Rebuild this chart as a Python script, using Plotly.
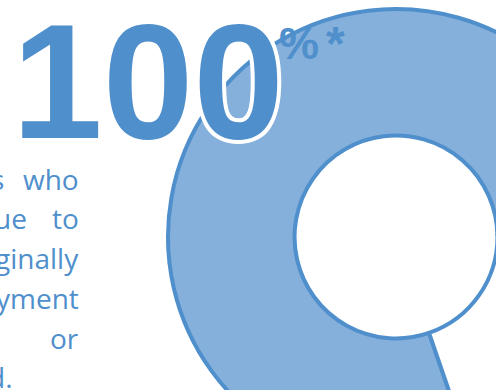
import plotly.graph_objects as go

# Doughnut: main share and the remaining share
slice_labels = ["Share", "Remainder"]
slice_values = [80, 20]
slice_colors = ["#84B0DB", "#FFFFFF"]

# Headline figure
headline = "100"
headline_suffix = ["%", "*"]

# Paragraph fragments (word, right edge in px), one list per line
para_words = [
    [("s", 6), ("who", 81)],
    [("ue", 29), ("to", 81)],
    [("ginally", 81)],
    [("yment", 81)],
    [("or", 81)],
]
last_line = "d."

BLUE = "#4F8FCC"
W, H = 792, 474            # canvas larger than the viewport so the ring can run off the edge
CX, CY, R = 396, 237, 228  # ring centre and radius in px


def px(x):
    return x / W


def py(y):
    return 1 - y / H


fig = go.Figure()
fig.add_trace(go.Pie(
    labels=slice_labels,
    values=slice_values,
    marker=dict(colors=slice_colors, line=dict(color=BLUE, width=4)),
    hole=0.445,
    sort=False,
    direction="clockwise",
    rotation=161,
    textinfo="none",
    hoverinfo="skip",
    showlegend=False,
    domain=dict(x=[px(CX - W / 2), px(CX + W / 2)], y=[py(CY + R), py(CY - R)]),
))

outline = ", ".join(f"{dx}px {dy}px 0 #FFFFFF" for dx, dy in
                    [(4, 0), (-4, 0), (0, 4), (0, -4), (3, 3), (-3, 3), (3, -3), (-3, -3),
                     (2, 0), (0, 2), (-2, 0), (0, -2)])

ann = []
ann.append(dict(x=px(148), y=py(81), text=f"<b>{headline}</b>", xanchor="center", yanchor="middle",
                font=dict(family="Liberation Sans", size=163, color=BLUE, shadow=outline)))
ann.append(dict(x=px(299), y=py(43), text=f"<b>{headline_suffix[0]}</b>", xanchor="center", yanchor="middle",
                font=dict(family="Liberation Sans", size=45, color=BLUE)))
ann.append(dict(x=px(335), y=py(44), text=f"<b>{headline_suffix[1]}</b>", xanchor="center", yanchor="middle",
                font=dict(family="Liberation Sans", size=48, color=BLUE)))

base, step = 192.7, 39.75
for i, words in enumerate(para_words):
    for word, right in words:
        ann.append(dict(x=px(right), y=py(base + step * i - 14), text=word, xanchor="right", yanchor="middle",
                        font=dict(family="Open Sans", size=28, color=BLUE)))
ann.append(dict(x=px(15), y=py(base + step * len(para_words) - 14), text=last_line, xanchor="right",
                yanchor="middle", font=dict(family="Open Sans", size=28, color=BLUE)))

for a in ann:
    a.update(xref="paper", yref="paper", showarrow=False)

fig.update_layout(
    width=W, height=H,
    margin=dict(l=0, r=0, t=0, b=0),
    paper_bgcolor="white", plot_bgcolor="white",
    annotations=ann,
    hovermode=False,
)

fig.write_html("out.html", post_script="document.body.style.margin='0';document.body.style.overflow='hidden';")
